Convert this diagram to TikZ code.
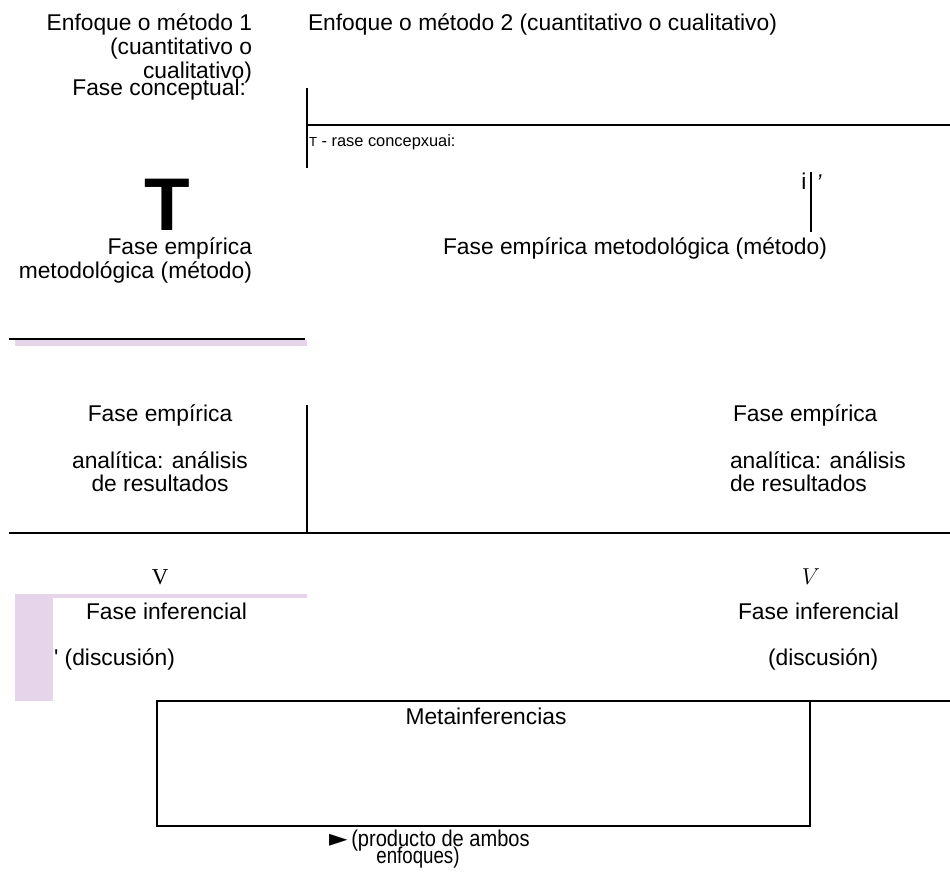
\documentclass[tikz,border=0pt]{standalone}
\usepackage{fontspec}
\setmainfont{Liberation Sans}
\newfontfamily\serifV{Liberation Serif}
\newfontfamily\symf{DejaVu Sans}
\definecolor{lav}{RGB}{230,213,234}
\begin{document}
\begin{tikzpicture}[x=0.75pt,y=-0.75pt,
  txt/.style={font=\fontsize{17.1}{19}\selectfont, inner sep=0, outer sep=0},
  smalltxt/.style={font=\fontsize{12.3}{14}\selectfont, inner sep=0, outer sep=0},
  bigT/.style={font=\bfseries\fontsize{56}{60}\selectfont, inner sep=0, outer sep=0},
  thick line/.style={line width=1.5pt},
  thin line/.style={line width=1.1pt},
  lavfill/.style={fill=lav}]
\useasboundingbox (0,0) rectangle (950,890);
% lavender fills
\fill[lavfill] (15,340) rectangle (307,346);
\fill[lavfill] (15,594) rectangle (307,598);
\fill[lavfill] (15,594) rectangle (53,701);
% coordinates for lines
\coordinate (v1a) at (307,88);  \coordinate (v1b) at (307,168);
\coordinate (h1a) at (307,125); \coordinate (h1b) at (950,125);
\coordinate (v2a) at (811,172); \coordinate (v2b) at (811,232);
\coordinate (h2a) at (9,339);   \coordinate (h2b) at (305,339);
\coordinate (v3a) at (307,405); \coordinate (v3b) at (307,533);
\coordinate (h3a) at (9,533);   \coordinate (h3b) at (950,533);
\coordinate (bx1) at (157,701); \coordinate (bx2) at (810,826);
\coordinate (h4b) at (950,701);
\draw[thin line] (v1a) -- (v1b);
\draw[thick line] (h1a) -- (h1b);
\draw[thin line] (v2a) -- (v2b);
\draw[thick line] (h2a) -- (h2b);
\draw[thin line] (v3a) -- (v3b);
\draw[thick line] (h3a) -- (h3b);
\draw[thick line] (h4b) -- (bx1) -- (bx1 |- bx2) -- (bx2) -- (bx2 |- bx1);
% texts, top left
\node[txt, anchor=base east] (e1a) at (252,30) {Enfoque o método 1};
\node[txt, anchor=base east] (e1b) at (252,54) {(cuantitativo o};
\node[txt, anchor=base east] (e1c) at (252,78) {cualitativo)};
\node[txt, anchor=base east] (fc) at (246,95) {Fase conceptual:};
\node[txt, anchor=base west] (e2) at (308,30) {Enfoque o método 2 (cuantitativo o cualitativo)};
\node[smalltxt, anchor=base west] (fc2) at (309,146) {\scalebox{0.8}{T} - rase concepxuai:};
\node[bigT, anchor=base] (T) at (167,230) {T};
\node[txt, anchor=base] (iw) at (804,189) {i};
\node[txt, anchor=base] (ap) at (819,190) {\itshape '};
% fase empirica metodologica
\node[txt, anchor=base east] (fm1) at (252,254) {Fase empírica};
\node[txt, anchor=base east] (fm2) at (252,278) {metodológica (método)};
\node[txt, anchor=base west] (fm3) at (443,254) {Fase empírica metodológica (método)};
% analitica
\node[txt, anchor=base] (fa1) at (160,421) {Fase empírica};
\node[txt, anchor=base] (fa2) at (160,468) {analítica: análisis};
\node[txt, anchor=base] (fa3) at (160,491) {de resultados};
\node[txt, anchor=base west] (fb1) at (733,421) {Fase empírica};
\node[txt, anchor=base west] (fb2) at (730,468) {analítica: análisis};
\node[txt, anchor=base west] (fb3) at (730,491) {de resultados};
% V
\node[txt, anchor=base, font=\serifV\fontsize{17.1}{19}\selectfont] (V1) at (160,584) {V};
\node[txt, anchor=base] (V2) at (811,584) {$V$};
% inferencial
\node[txt, anchor=base west] (fi1) at (86,619) {Fase inferencial};
\node[txt, anchor=base west] (fi2) at (54,665) {\textquotesingle{} (discusión)};
\node[txt, anchor=base west] (fj1) at (738,619) {Fase inferencial};
\node[txt, anchor=base west] (fj2) at (768,665) {(discusión)};
% meta
\node[txt, anchor=base] (meta) at (486,724) {Metainferencias};
\node[txt, anchor=base west] (prod) at (329,846) {{\symf\fontsize{18}{18}\selectfont ►}\,\scalebox{0.88}[1]{(producto de ambos}};
\node[txt, anchor=base] (enf) at (418,863) {\scalebox{0.82}[1]{enfoques)}};
\end{tikzpicture}
\end{document}
